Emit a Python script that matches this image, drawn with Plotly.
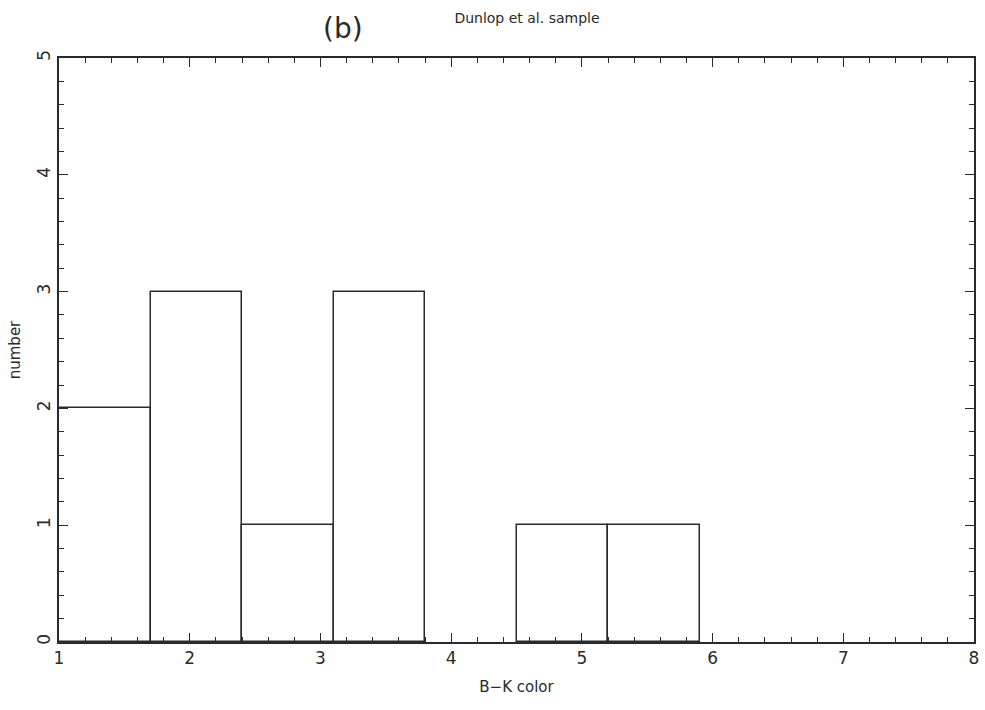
import plotly.graph_objects as go

# Histogram data: bin left edges, bin width and counts
bin_left = [1.0, 1.7, 2.4, 3.1, 3.8, 4.5, 5.2, 5.9, 6.6, 7.3]
bin_width = 0.7
counts = [2, 3, 1, 3, 0, 1, 1, 0, 0, 0]

x_ticks = [1, 2, 3, 4, 5, 6, 7, 8]
y_ticks = [0, 1, 2, 3, 4, 5]

centers = [b + bin_width / 2 for b in bin_left]
ink = "#2a2a2a"
font = "DejaVu Sans"

fig = go.Figure()
fig.add_trace(go.Bar(
    x=centers, y=counts, width=[bin_width] * len(centers),
    marker=dict(color="white",
                line=dict(color=ink, width=[1.5 if c > 0 else 0 for c in counts])),
    showlegend=False, hoverinfo="x+y",
))

axis_common = dict(
    showgrid=False, zeroline=False, showline=True, linecolor=ink, linewidth=1.5,
    mirror="allticks", ticks="inside", ticklen=9, tickwidth=1.3, tickcolor=ink,
    tickfont=dict(family=font, size=17, color=ink),
    minor=dict(ticks="inside", ticklen=5, tickwidth=1.1, tickcolor=ink, dtick=0.2, showgrid=False),
)

fig.update_xaxes(
    range=[1, 8], tickvals=x_ticks, ticktext=[str(v) for v in x_ticks],
    title=dict(text="B\u2212K color", font=dict(family=font, size=15, color=ink), standoff=14),
    **axis_common,
)
fig.update_yaxes(
    range=[0, 5], tickvals=y_ticks, ticktext=[str(v) for v in y_ticks], tickangle=-90,
    title=dict(text="number", font=dict(family=font, size=15, color=ink), standoff=10),
    **axis_common,
)

fig.update_layout(
    width=985, height=710,
    margin=dict(l=59, r=6, t=58, b=68),
    paper_bgcolor="white", plot_bgcolor="white",
    bargap=0,
    title=dict(text="Dunlop et al. sample", x=0.535, xanchor="center", y=0.975, yanchor="middle",
               font=dict(family=font, size=14, color=ink)),
    annotations=[dict(text="(b)", x=0.31, y=1.05, xref="paper", yref="paper",
                      xanchor="center", yanchor="middle", showarrow=False,
                      font=dict(family="DejaVu Sans", size=28, color=ink))],
)

fig.write_html("out.html")
